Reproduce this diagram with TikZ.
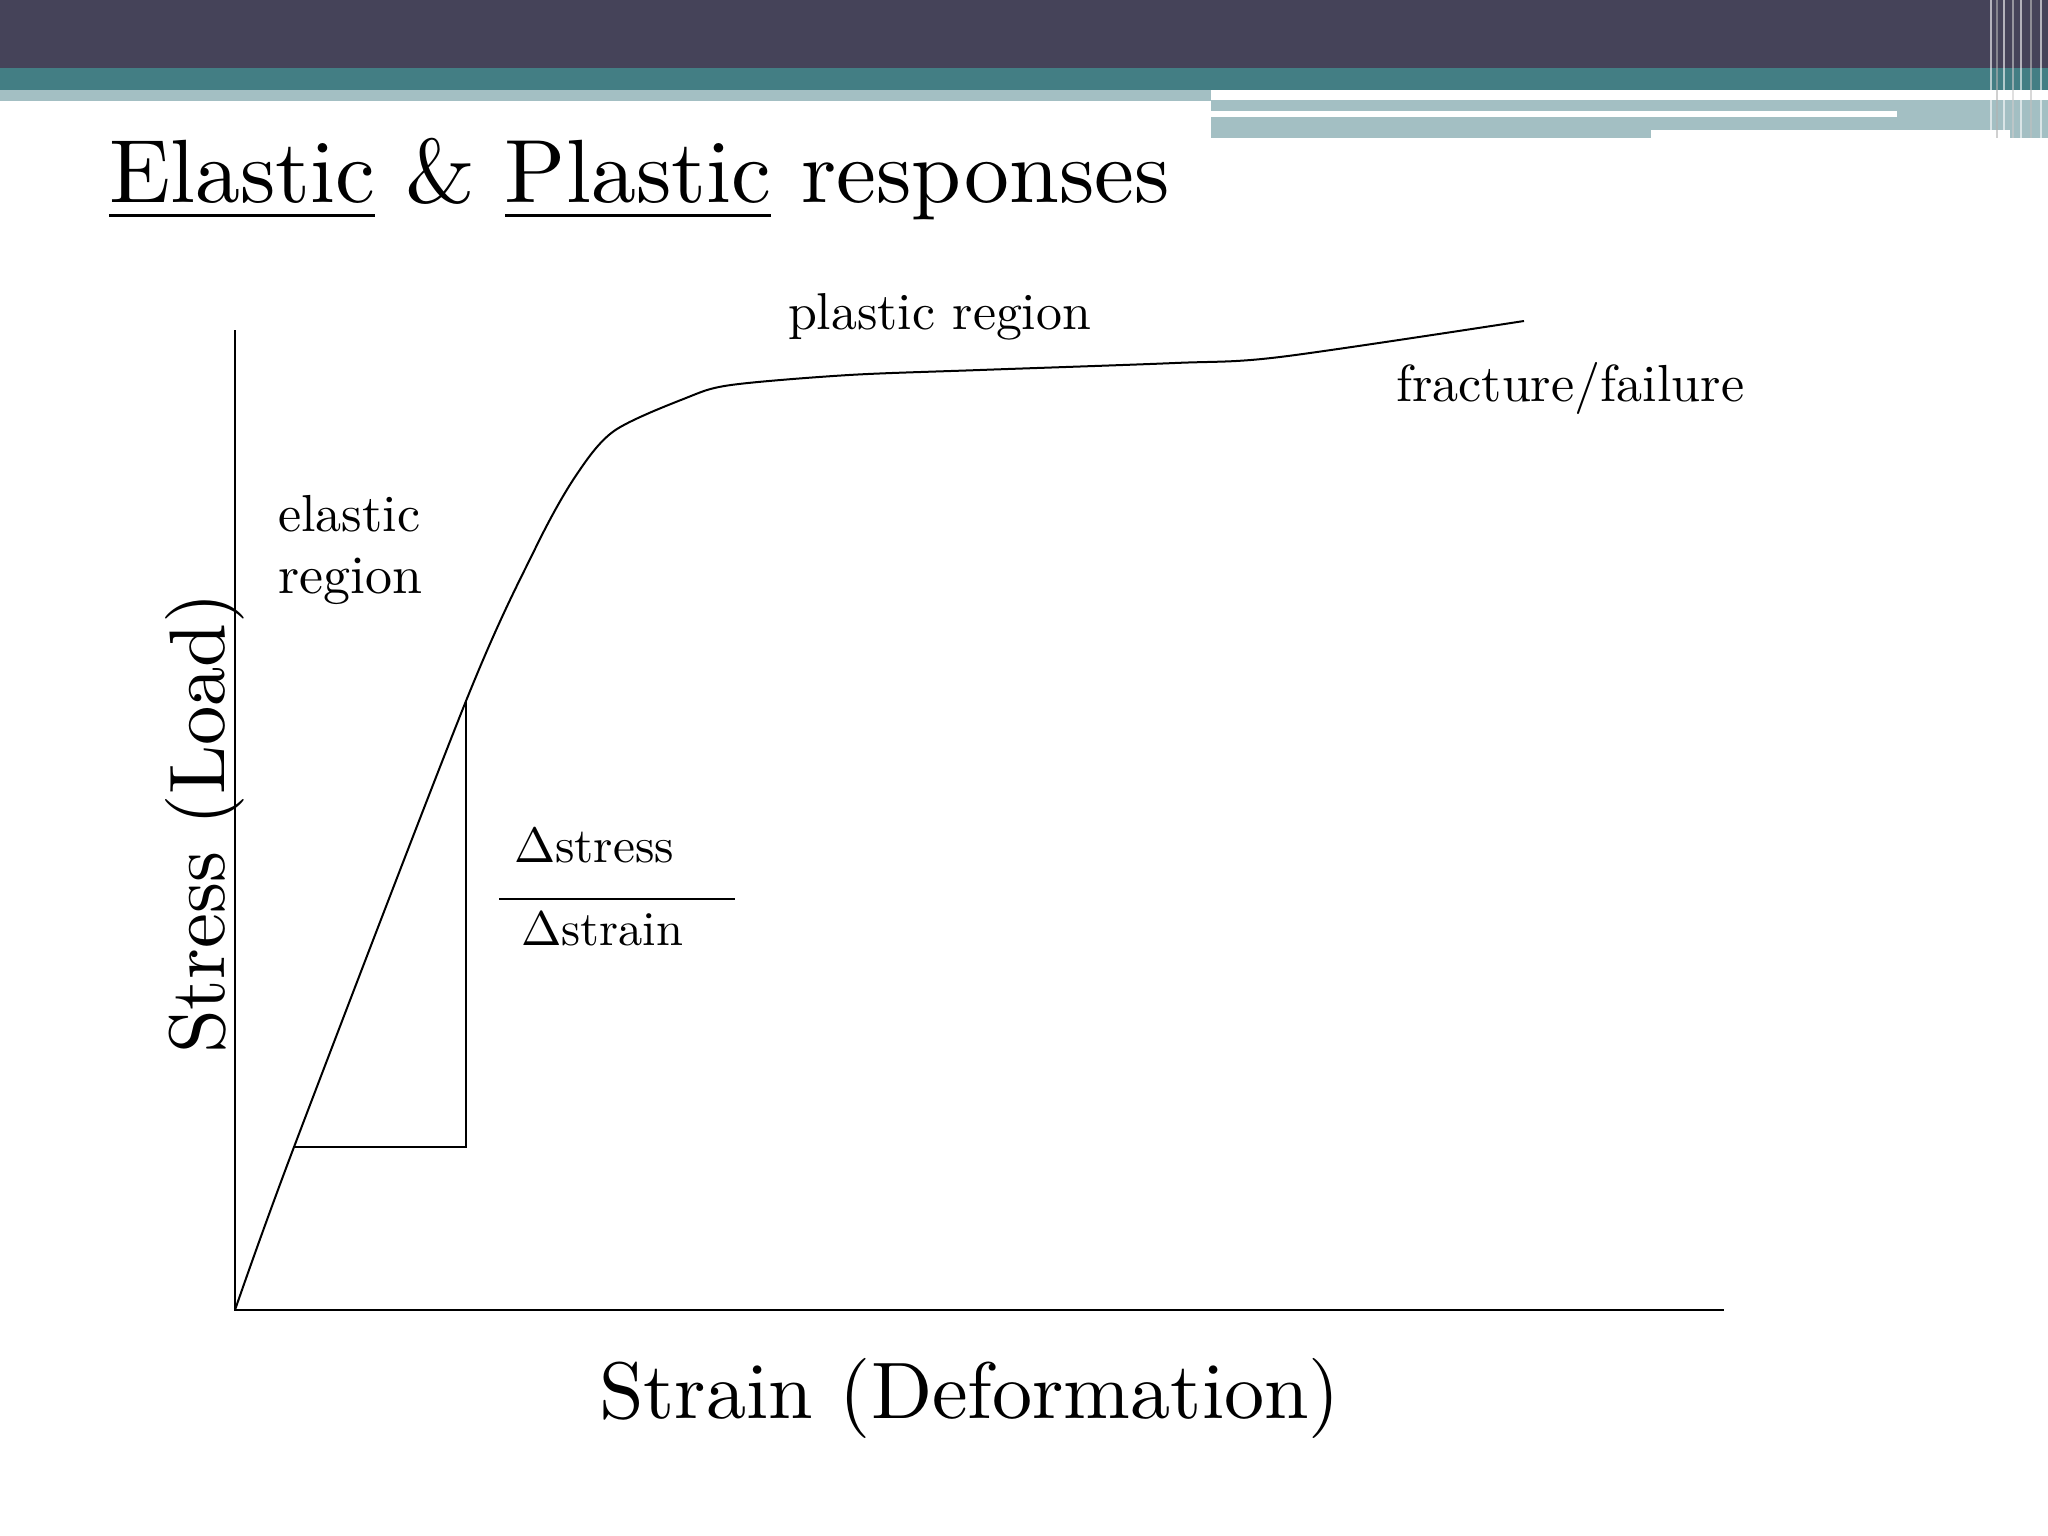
\documentclass[tikz,border=0pt]{standalone}
\usepackage{graphicx}
\definecolor{dark}{HTML}{454359}
\definecolor{teal2}{HTML}{437E84}
\definecolor{light}{HTML}{A3BFC3}
\newcommand{\fitw}[2]{\resizebox{#1}{!}{#2}}
\begin{document}
\begin{tikzpicture}[x=1pt,y=-1pt,line width=2.2pt,
  lbl/.style={inner sep=0pt,anchor=base}]
\useasboundingbox (0,0) rectangle (2048,1536);
\fill[white] (0,0) rectangle (2048,1536);
% header bands
\fill[dark] (0,0) rectangle (2048,68);
\fill[teal2] (0,68) rectangle (2048,90);
\fill[light] (0,90) rectangle (1211,101);
\fill[light] (1211,100) rectangle (2048,138);
\fill[white] (1211,111) rectangle (1897,117);
\fill[white] (1651,130) rectangle (2010,140);
\foreach \x/\c in {1990/white,1996/gray!60,2003/white,2012/gray!40,2020/white,2030/gray!50,2040/white}
  \fill[\c,opacity=0.6] (\x,0) rectangle ++(2,138);
% title
\node[lbl,anchor=base west] (title) at (108,202)
  {\fitw{1060pt}{\underline{Elastic} \& \underline{Plastic} responses}};
% axes
\coordinate (o) at (235,1310);
\coordinate (ytop) at (235,330);
\coordinate (xend) at (1724,1310);
\draw (ytop) -- (o) -- (xend);
% curve
\draw[line width=2pt] plot[smooth,tension=0.5] coordinates {(235,1310) (294,1147) (466,701) (535,549) (575,477) (614,431) (686,398) (731,385) (849,375) (980,370) (1175,363) (1280,357) (1524,321)};
% triangle
\coordinate (ta) at (294,1147);
\coordinate (tb) at (466,1147);
\coordinate (tc) at (466,701);
\draw (ta) -- (tb) -- (tc);
\coordinate (fa) at (499,899);
\coordinate (fb) at (735,899);
\draw (fa) -- (fb);
% labels
\node[lbl,anchor=base west] (ds) at (513,862) {\fitw{160pt}{$\Delta$stress}};
\node[lbl,anchor=base west] (dn) at (520,945) {\fitw{162pt}{$\Delta$strain}};
\node[lbl,anchor=base west] (pr) at (787,329) {\fitw{303pt}{plastic region}};
\node[lbl,anchor=base west] (ff) at (1395,401) {\fitw{348pt}{fracture/failure}};
\node[lbl,anchor=base west] (er1) at (277,531) {\fitw{142pt}{elastic}};
\node[lbl,anchor=base west] (er2) at (277,593) {\fitw{144pt}{region}};
\node[lbl,anchor=base west] (sx) at (598,1418) {\fitw{741pt}{Strain (Deformation)}};
\node[lbl,anchor=base west,rotate=90] (sy) at (224,1055) {\fitw{461pt}{Stress (Load)}};
\end{tikzpicture}
\end{document}
